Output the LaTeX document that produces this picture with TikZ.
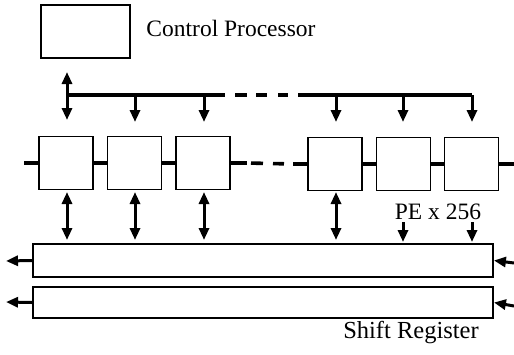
\documentclass[tikz,border=0pt]{standalone}
\usepackage{fontspec}
\setmainfont{Liberation Serif}
\usetikzlibrary{arrows.meta}
\begin{document}
\begin{tikzpicture}[x=1pt,y=-1pt,
  box/.style={draw,line width=1.8pt,minimum width=54pt,minimum height=53pt,inner sep=0pt},
  reg/.style={draw,line width=1.8pt,minimum width=460pt,inner sep=0pt},
  wire/.style={line width=3.6pt},
  arr/.style={line width=3pt,-{Triangle[width=10pt,length=12pt]}},
  darr/.style={line width=3pt,{Triangle[width=10pt,length=12pt]}-{Triangle[width=10pt,length=12pt]}},
  lbl/.style={font=\fontsize{23.5}{25}\selectfont,inner sep=0pt}]
\useasboundingbox (0,0) rectangle (514,354);
% control processor
\node[box,minimum width=89pt] (cp) at (85.5,31.5) {};
\node[lbl] (cpt) at (231,28) {Control Processor};
% bus
\coordinate (b0) at (67,95);
\coordinate (b1) at (225,95);
\coordinate (b2) at (298,95);
\coordinate (b3) at (472,95);
\draw[wire] (b0) -- (b1);
\draw[wire,dash pattern=on 0pt off 10pt on 12pt off 9pt on 11pt off 11pt on 10pt off 10pt] (b1) -- (b2);
\draw[wire] (b2) -- (b3);
\coordinate (cpa) at (67,72);
\coordinate (cpb) at (67,120);
\draw[darr] (cpa) -- (cpb);
% PEs
\node[box] (pe1) at (66,163) {};
\node[box] (pe2) at (134.5,163) {};
\node[box] (pe3) at (203,163) {};
\node[box] (pe4) at (335,164) {};
\node[box] (pe5) at (403.5,164) {};
\node[box] (pe6) at (471.5,164) {};
% bus drops
\foreach \x/\n in {135/2,204/3,336/4,403/5} {
  \coordinate (t\n) at (\x,95);
  \coordinate (u\n) at (\x,122);
  \draw[arr] (t\n) -- (u\n);
}
\coordinate (u6) at (472,122);
\draw[arr,line join=round] (b3) -- (u6);
% PE chain
\coordinate (l0) at (24,163);
\coordinate (d0) at (247,163);
\coordinate (d1) at (293,164);
\coordinate (r0) at (514,164);
\draw[wire] (l0) -- (pe1.west);
\draw[wire] (pe1.east) -- (pe2.west);
\draw[wire] (pe2.east) -- (pe3.west);
\draw[wire] (pe3.east) -- (d0);
\draw[wire,dash pattern=on 0pt off 4pt on 12pt off 10pt on 11pt off 9pt] (d0) -- (d1);
\draw[wire] (d1) -- (pe4.west);
\draw[wire] (pe4.east) -- (pe5.west);
\draw[wire] (pe5.east) -- (pe6.west);
\draw[wire] (pe6.east) -- (r0);
% shift registers
\node[reg,minimum height=33pt] (sr1) at (263,260.5) {};
\node[reg,minimum height=31pt] (sr2) at (263,302.5) {};
% PE <-> register
\foreach \x/\n in {67/1,135/2,204/3,336/4} {
  \coordinate (p\n) at (\x,192);
  \coordinate (q\n) at (\x,240);
  \draw[darr] (p\n) -- (q\n);
}
\foreach \x/\n in {403/5,472/6} {
  \coordinate (p\n) at (\x,222);
  \coordinate (q\n) at (\x,242);
  \draw[arr] (p\n) -- (q\n);
}
\node[lbl] (pet) at (438,212) {PE x 256};
% register shift arrows
\coordinate (sl1) at (6,261);
\coordinate (sl2) at (6,302);
\coordinate (sr1in) at (514,263);
\coordinate (sr2in) at (514,306);
\draw[arr] (sr1.west) -- (sl1);
\draw[arr] (sr2.west) -- (sl2);
\draw[arr] (sr1in) -- (sr1.east);
\draw[arr] (sr2in) -- (sr2.east);
\node[lbl,font=\fontsize{24.5}{26}\selectfont] (srt) at (411,333) {Shift Register};
\end{tikzpicture}
\end{document}
